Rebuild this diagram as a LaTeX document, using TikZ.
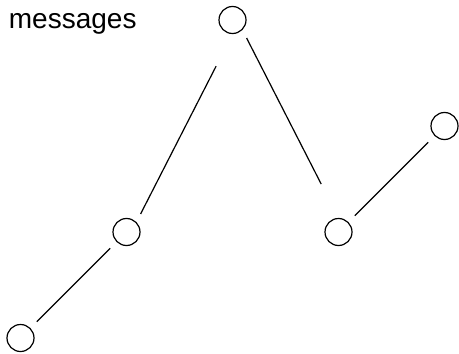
\documentclass[tikz,border=0pt]{standalone}
\usepackage{fontspec}
\setmainfont{Liberation Sans}
\usepackage{tikz}

\begin{document}
\begin{tikzpicture}[x=53pt, y=53pt, line width=0.6pt,
  noeud/.style={circle, draw, minimum size=13.5pt, inner sep=0pt},
  lien/.style={shorten <=4.5pt, shorten >=4.5pt}]
  \useasboundingbox (-0.1934,-0.1415) rectangle (4.1368,3.1887);

  % Noeuds
  \node[noeud] (n1) at (0, 0) {};
  \node[noeud] (n2) at (1, 1) {};
  \node[noeud] (n3) at (2, 3) {};
  \node[noeud] (n4) at (3, 1) {};
  \node[noeud] (n5) at (4, 2) {};

  % Texte
  \node[anchor=base west, inner sep=0pt, font=\fontsize{14pt}{16pt}\selectfont] (titre) at (-0.115, 2.922) {messages};

  % Liens
  \draw[lien] (n1.north east) -- (n2.south west);
  \draw[lien, shorten >=18pt] (n2.north east) -- (n3.south);
  \draw[lien, shorten >=19pt] (n3.south east) -- (n4.north);
  \draw[lien] (n4.north east) -- (n5.south west);
\end{tikzpicture}
\end{document}
